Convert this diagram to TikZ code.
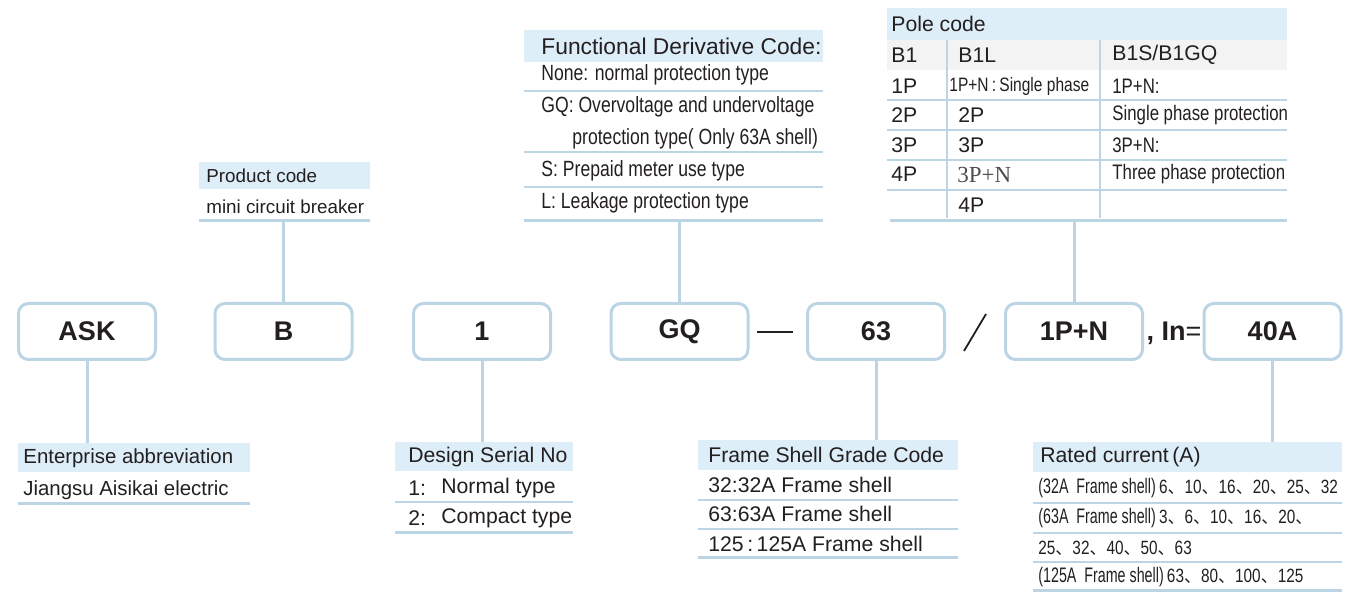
\documentclass[tikz,border=0pt]{standalone}
\usepackage{fontspec}
\setmainfont{Liberation Sans}
\newfontfamily\narrowfont[FakeStretch=0.8]{Liberation Sans}
\newfontfamily\xnarrowfont[FakeStretch=0.68]{Liberation Sans}
\newfontfamily\seriffont{Liberation Serif}
\newfontfamily\cjk{Noto Sans CJK SC}
\newcommand{\dn}{{\fontsize{8.5}{10}\cjk 、}}
\definecolor{lineblue}{HTML}{BCD5E5}
\definecolor{headblue}{HTML}{DDEEF9}
\definecolor{rowgray}{HTML}{F3F3F3}
\definecolor{textdark}{HTML}{231F20}

\begin{document}
\begin{tikzpicture}[x=0.5pt,y=-0.5pt,
  codebox/.style={draw=lineblue,line width=1.5pt,rounded corners=5pt,minimum width=68.5pt,minimum height=28pt,inner sep=0pt,text=textdark,font=\fontsize{13.5}{14}\selectfont\bfseries},
  link/.style={draw=lineblue,line width=1.5pt},
  thinrule/.style={draw=lineblue,line width=0.7pt},
  thickrule/.style={draw=lineblue,line width=1.5pt},
  colrule/.style={draw=lineblue,line width=1.2pt},
  cell/.style={anchor=west,inner sep=0pt,text=textdark,font=\fontsize{10.6}{12}\selectfont},
  ncell/.style={cell,font=\fontsize{11}{12}\narrowfont}]
\useasboundingbox (0,0) rectangle (1357,593);
%Блоки кода
\node[codebox] (ask) at (87,331.5) {ASK};
\node[codebox] (prod) at (283.5,331.5) {B};
\node[codebox] (serial) at (482,331.5) {1};
\node[codebox] (func) at (679.5,331.5) {GQ};
\node[codebox] (frame) at (876,331.5) {63};
\node[codebox] (pole) at (1074,331.5) {1P+N};
\node[codebox] (rated) at (1272.5,331.5) {40A};
\node[inner sep=0pt,text=textdark,font=\fontsize{13.5}{14}\selectfont] (inn) at (1174,333) {\textbf{, In}=};
%Разделители
\coordinate (dashl) at (757,332);
\coordinate (dashr) at (793,332);
\coordinate (slasht) at (986,314);
\coordinate (slashb) at (964,351);
\draw[textdark,line width=1pt] (dashl) -- (dashr);
\draw[textdark,line width=0.9pt] (slasht) -- (slashb);
%Таблица: код продукта
\fill[headblue] (199,162) rectangle (370,189);
\draw[thickrule] (199,221) -- (370,221);
\node[cell,font=\fontsize{9.4}{11}\selectfont] (prodhead) at (206,176) {Product code};
\node[cell,font=\fontsize{9.4}{11}\selectfont] (prodrow) at (206,207) {mini circuit breaker};
\coordinate (prodtab) at (283.5,221);
%Таблица: функциональный код
\fill[headblue] (524,30) rectangle (823,62);
\foreach \y in {91,152,187} \draw[thinrule] (524,\y) -- (823,\y);
\draw[thickrule] (524,221) -- (823,221);
\node[cell,font=\fontsize{11.4}{13}\selectfont] (funchead) at (541,46) {Functional Derivative Code:};
\node[ncell] (funcnone) at (541,75) {None: normal protection type};
\node[ncell] (funcgq) at (541,107) {GQ: Overvoltage and undervoltage};
\node[ncell] (funcgqb) at (572,139) {protection type( Only 63A shell)};
\node[ncell] (funcs) at (541,171) {S: Prepaid meter use type};
\node[ncell] (funcl) at (541,203) {L: Leakage protection type};
\coordinate (functab) at (679.5,221);
%Таблица: число полюсов
\fill[headblue] (887,8) rectangle (1287,40);
\fill[rowgray] (887,40) rectangle (1287,70);
\foreach \y in {100,130,160,190} \draw[thinrule] (887,\y) -- (1287,\y);
\draw[thickrule] (890,221) -- (1287,221);
\draw[colrule] (947,40) -- (947,218);
\draw[colrule] (1100,40) -- (1100,218);
\node[cell] (polehead) at (891,24) {Pole code};
\node[cell] (poleb) at (891,55) {B1};
\node[cell] (polebl) at (958,55) {B1L};
\node[cell] (polebs) at (1112,55) {B1S/B1GQ};
\node[cell] (polea) at (891,86) {1P};
\node[cell] (poleaa) at (891,115) {2P};
\node[cell] (poleab) at (891,145) {3P};
\node[cell] (poleac) at (891,174) {4P};
\node[ncell,font=\fontsize{9.7}{12}\narrowfont] (polela) at (949,86) {1P+N\,:\,Single phase};
\node[cell] (polelb) at (958,115) {2P};
\node[cell] (polelc) at (958,145) {3P};
\node[cell,font=\fontsize{11.5}{13}\seriffont,text=textdark!80] (poleld) at (957,175) {3P+N};
\node[cell] (polele) at (958,205) {4P};
\node[ncell,font=\fontsize{10.5}{12}\narrowfont] (polesa) at (1112,86) {1P+N:};
\node[ncell,font=\fontsize{10.5}{12}\narrowfont] (polesb) at (1112,115) {Single phase protection};
\node[ncell,font=\fontsize{10.5}{12}\narrowfont] (polesc) at (1112,145) {3P+N:};
\node[ncell,font=\fontsize{10.5}{12}\narrowfont] (polesd) at (1112,174) {Three phase protection};
\coordinate (poletab) at (1074,221);
%Таблица: сокращение предприятия
\fill[headblue] (18,443) rectangle (250,472);
\draw[thickrule] (18,504) -- (250,504);
\node[cell,font=\fontsize{10.2}{12}\selectfont] (askhead) at (23,458) {Enterprise abbreviation};
\node[cell,font=\fontsize{10.2}{12}\selectfont] (askrow) at (23,490) {Jiangsu Aisikai electric};
\coordinate (asktab) at (87,443);
%Таблица: серийный номер
\fill[headblue] (395,442) rectangle (573,471);
\draw[thinrule] (395,502) -- (573,502);
\draw[thickrule] (395,533) -- (573,533);
\node[cell] (serhead) at (408,457) {Design Serial No};
\node[cell] (sera) at (408,488) {1:};
\node[cell] (seraa) at (441,488) {Normal type};
\node[cell] (serb) at (408,518) {2:};
\node[cell] (serbb) at (441,518) {Compact type};
\coordinate (sertab) at (482,442);
%Таблица: габарит корпуса
\fill[headblue] (698,440) rectangle (958,470);
\foreach \y in {500,529} \draw[thinrule] (698,\y) -- (958,\y);
\draw[thickrule] (698,558) -- (958,558);
\node[cell] (framehead) at (708,455) {Frame Shell Grade Code};
\node[cell,font=\fontsize{10.6}{12}\selectfont] (framea) at (708,485) {32:32A Frame shell};
\node[cell,font=\fontsize{10.6}{12}\selectfont] (frameb) at (708,514) {63:63A Frame shell};
\node[cell,font=\fontsize{10.6}{12}\selectfont] (framec) at (708,544) {125\,:\,125A\ Frame shell};
\coordinate (frametab) at (876,440);
%Таблица: номинальный ток
\fill[headblue] (1033,442) rectangle (1342,472);
\foreach \y in {503,533,562} \draw[thinrule] (1033,\y) -- (1342,\y);
\draw[thickrule] (1033,591) -- (1342,591);
\node[cell] (ratedhead) at (1040,457) {Rated current\,(A)};
\node[ncell,font=\fontsize{9.6}{12}\narrowfont] (rateda) at (1038,488) {{\fontsize{10.5}{12}\xnarrowfont(32A\ \ Frame shell)}\,6\dn10\dn16\dn20\dn25\dn32};
\node[ncell,font=\fontsize{9.6}{12}\narrowfont] (ratedb) at (1038,518) {{\fontsize{10.5}{12}\xnarrowfont(63A\ \ Frame shell)}\,3\dn6\dn10\dn16\dn20\dn};
\node[ncell,font=\fontsize{9.6}{12}\narrowfont] (ratedc) at (1038,548) {25\dn32\dn40\dn50\dn63};
\node[ncell,font=\fontsize{9.6}{12}\narrowfont] (ratedd) at (1038,577) {{\fontsize{10.5}{12}\xnarrowfont(125A\ \ Frame shell)}\,63\dn80\dn100\dn125};
\coordinate (ratedtab) at (1272.5,442);
%Соединительные линии
\draw[link] (prod.north) -- (prodtab);
\draw[link] (func.north) -- (functab);
\draw[link] (pole.north) -- (poletab);
\draw[link] (ask.south) -- (asktab);
\draw[link] (serial.south) -- (sertab);
\draw[link] (frame.south) -- (frametab);
\draw[link] (rated.south) -- (ratedtab);
\end{tikzpicture}
\end{document}
